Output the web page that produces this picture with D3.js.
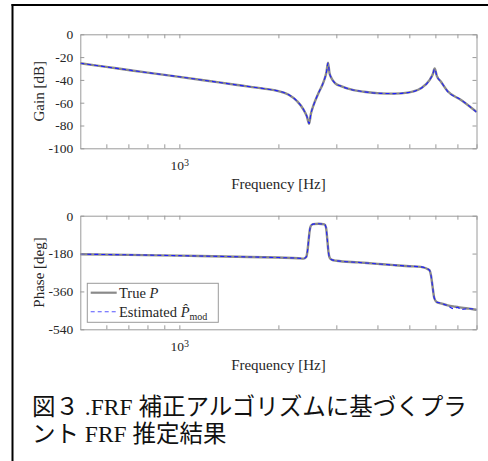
<!DOCTYPE html>
<html>
<head>
<meta charset="utf-8">
<script src="https://cdn.jsdelivr.net/npm/d3@7"></script>
<style>
  body { margin: 0; background: #fff; }
</style>
</head>
<body>
<script>
// Gain data (Hz, dB)
var gainFreq = [500, 600, 700, 800, 1000, 1200, 1500, 1800, 2000, 2150, 2276, 2384, 2441, 2480,
  2510, 2559, 2648, 2745, 2800, 2830, 2860, 2900, 2978, 3100, 3232, 3636, 4078, 4500, 4940,
  5420, 5750, 5890, 5970, 6060, 6240, 6540, 7180, 8000]
var gainTrue = [-25.4, -28.6, -31.3, -33.6, -37.3, -40.5, -44.5, -47.6, -49.8, -53, -58.5, -66, -72, -78.5,
  -70, -62, -51.5, -41.5, -33, -25, -34, -38.5, -43, -45.5, -47.4, -50.4, -51.8, -52, -51.2,
  -47.4, -40.5, -35, -30, -36.5, -41.6, -50, -57.6, -68]
var gainEst = [-25.4, -28.6, -31.3, -33.6, -37.3, -40.5, -44.5, -47.6, -49.8, -53, -58.5, -66, -72, -78.3,
  -70, -62, -51.5, -41.5, -33, -25.2, -34, -38.5, -43, -45.5, -47.4, -50.4, -51.8, -52, -51.2,
  -47.4, -40.5, -35, -30.3, -36.5, -41.6, -50.2, -57.4, -68.3]

// Phase data (Hz, deg)
var phaseFreq = [500, 700, 1000, 1500, 2000, 2300, 2384, 2430, 2450, 2470, 2490, 2510, 2550, 2650,
  2760, 2790, 2815, 2840, 2870, 2910, 3000, 3500, 4000, 4500, 5000, 5420, 5750, 5820, 5880,
  5950, 6050, 6240, 6540, 6800, 7000, 7200, 7600, 8000]
var phaseTrue = [-183, -186, -190, -195, -199, -202, -204, -196, -170, -120, -70, -48, -40, -38,
  -41, -55, -110, -175, -203, -210, -214, -222, -229, -235, -240, -243, -258, -285, -335,
  -390, -410, -417, -426, -431, -434, -437, -442, -447]
var phaseEst = [-183, -186, -190, -195, -199, -202, -204, -196, -170, -120, -70, -48, -40, -38,
  -41, -55, -110, -175, -203, -210, -214, -222, -229, -235, -240, -243, -258, -285, -335,
  -390, -410, -416, -428, -442, -436, -446, -441, -448]

var gainTicks = [-100, -80, -60, -40, -20, 0]
var phaseTicks = [-540, -360, -180, 0]
var freqTicks = [600, 700, 800, 900, 1000, 2000, 3000, 4000, 5000, 6000, 7000, 8000]

var serif = "'Liberation Serif', 'Times New Roman', serif"
var boxColor = "#9a9a9a"

var svg = d3.select("body")
    .append("svg")
        .attr("width", 488)
        .attr("height", 461)

// frame of the table cell
svg.append("line").attr("x1", 12.5).attr("x2", 12.5).attr("y1", 4).attr("y2", 461)
    .attr("stroke", "#000").attr("stroke-width", 2)
svg.append("line").attr("x1", 11.5).attr("x2", 488).attr("y1", 5).attr("y2", 5)
    .attr("stroke", "#000").attr("stroke-width", 2)

var x = d3.scaleLog().domain([500, 8000]).range([80.3, 476.5])

function drawPanel(top, bottom, yDomain, yTicks, ylabel, freq, trueVals, estVals) {
  var y = d3.scaleLinear().domain(yDomain).range([bottom, top])
  var g = svg.append("g")

  g.append("rect")
      .attr("x", x.range()[0]).attr("y", top)
      .attr("width", x.range()[1] - x.range()[0]).attr("height", bottom - top)
      .attr("fill", "#fff")

  var line = d3.line()
      .x((d, i) => x(freq[i]))
      .y(d => y(d))
      .curve(d3.curveMonotoneX)

  g.append("path").datum(trueVals)
      .attr("d", line)
      .attr("fill", "none")
      .attr("stroke", "#8a8a8a")
      .attr("stroke-width", 2.4)

  g.append("path").datum(estVals)
      .attr("d", line)
      .attr("fill", "none")
      .attr("stroke", "#1f1fff")
      .attr("stroke-width", 1.1)
      .attr("stroke-dasharray", "4,3")

  // axes, ticks pointing inward like matlab
  var left = g.append("g")
      .attr("transform", "translate(" + x.range()[0] + ",0)")
      .call(d3.axisLeft(y).tickValues(yTicks).tickSize(-4).tickSizeOuter(0)
        .tickPadding(7).tickFormat(d => String(d)))
  var right = g.append("g")
      .attr("transform", "translate(" + x.range()[1] + ",0)")
      .call(d3.axisRight(y).tickValues(yTicks).tickSize(-4).tickSizeOuter(0).tickFormat(""))
  var bot = g.append("g")
      .attr("transform", "translate(0," + bottom + ")")
      .call(d3.axisBottom(x).tickValues(freqTicks).tickSize(-4).tickSizeOuter(0)
        .tickPadding(12.5).tickFormat(d => d === 1000 ? "10" : ""))
  var topAx = g.append("g")
      .attr("transform", "translate(0," + top + ")")
      .call(d3.axisTop(x).tickValues(freqTicks).tickSize(-4).tickSizeOuter(0).tickFormat(""))

  ;[left, right, bot, topAx].forEach(function(a) {
    a.attr("font-family", serif).attr("font-size", 13.5)
    a.selectAll("path, line").attr("stroke", boxColor)
    a.selectAll("text").attr("fill", "#262626")
  })

  bot.selectAll(".tick text").filter(d => d === 1000)
      .append("tspan")
      .attr("dy", "-0.45em")
      .attr("font-size", 10)
      .text("3")

  svg.append("text")
      .attr("transform", "translate(44," + ((top + bottom) / 2) + ") rotate(-90)")
      .attr("text-anchor", "middle")
      .attr("font-family", serif)
      .attr("font-size", 15)
      .attr("fill", "#262626")
      .text(ylabel)

  svg.append("text")
      .attr("x", (x.range()[0] + x.range()[1]) / 2)
      .attr("y", bottom + 40.5)
      .attr("text-anchor", "middle")
      .attr("font-family", serif)
      .attr("font-size", 15)
      .attr("fill", "#262626")
      .text("Frequency [Hz]")

  return g
}

drawPanel(34.3, 148.3, [-100, 0], gainTicks, "Gain [dB]", gainFreq, gainTrue, gainEst)
var phasePanel = drawPanel(215.7, 329.3, [-540, 0], phaseTicks, "Phase [deg]", phaseFreq, phaseTrue, phaseEst)

// legend
var leg = phasePanel.append("g")
leg.append("rect")
    .attr("x", 87.3).attr("y", 283.3).attr("width", 131).attr("height", 39)
    .attr("fill", "#fff").attr("stroke", boxColor).attr("stroke-width", 1)
leg.append("line").attr("x1", 90.7).attr("x2", 116.7).attr("y1", 292.7).attr("y2", 292.7)
    .attr("stroke", "#8a8a8a").attr("stroke-width", 2.2)
leg.append("line").attr("x1", 90.7).attr("x2", 116.7).attr("y1", 311.7).attr("y2", 311.7)
    .attr("stroke", "#5555ff").attr("stroke-width", 1.1).attr("stroke-dasharray", "4,3")

var t1 = leg.append("text").attr("x", 119).attr("y", 297.5)
    .attr("font-family", serif).attr("font-size", 14.5).attr("fill", "#262626")
t1.append("tspan").text("True ")
t1.append("tspan").attr("font-style", "italic").text("P")

var t2 = leg.append("text").attr("x", 119).attr("y", 316.5)
    .attr("font-family", serif).attr("font-size", 14.5).attr("fill", "#262626")
t2.append("tspan").text("Estimated ")
t2.append("tspan").attr("font-style", "italic").text("P\u0302")
t2.append("tspan").attr("font-size", 10).attr("dy", 3).text("mod")

// caption
var capFont = "'Liberation Serif', 'Noto Sans CJK JP', sans-serif"
svg.append("text").attr("x", 32).attr("y", 414.5)
    .attr("font-family", capFont).attr("font-size", 23.5).attr("fill", "#111")
    .text("図３ .FRF 補正アルゴリズムに基づくプラ")
svg.append("text").attr("x", 32).attr("y", 441.5)
    .attr("font-family", capFont).attr("font-size", 23.5).attr("fill", "#111")
    .text("ント FRF 推定結果")
</script>
</body>
</html>
